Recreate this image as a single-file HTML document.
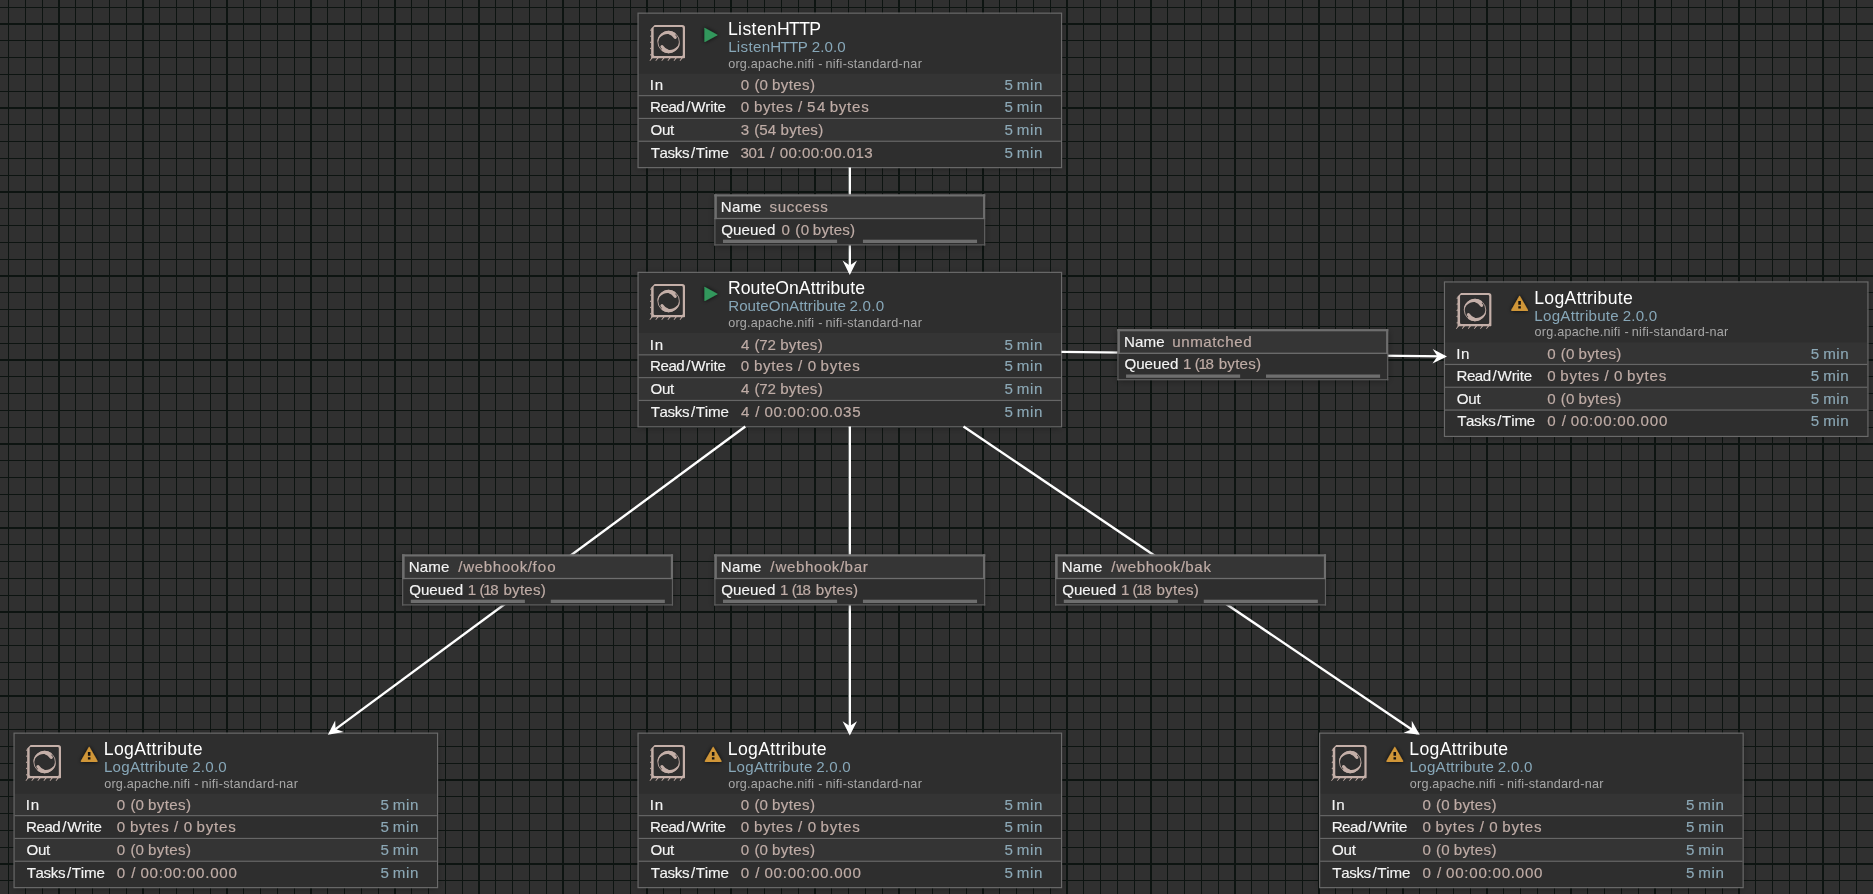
<!DOCTYPE html>
<html lang="en"><head><meta charset="utf-8"><title>NiFi Flow</title>
<style>
html,body{margin:0;padding:0;background:#303030;overflow:hidden;}
svg{display:block;position:absolute;left:0;top:0;will-change:transform;}
text{font-family:"Liberation Sans",sans-serif;white-space:pre;font-kerning:none;stroke-width:0px;stroke-linejoin:round;}
.nm{font-size:17.64px;fill:#ffffff;stroke:#ffffff;}
.ty{font-size:15.12px;fill:#87a7b8;stroke:#87a7b8;}
.bd{font-size:12.60px;fill:#a8a8a8;stroke:#a8a8a8;}
.lb{font-size:15.12px;fill:#f4f4f4;stroke:#f4f4f4;stroke-width:0.15px;}
.vl{font-size:15.12px;fill:#bfaca6;stroke:#bfaca6;stroke-width:0.18px;}
.in{font-size:15.12px;fill:#8ca8b6;stroke:#8ca8b6;stroke-width:0.15px;}
</style></head><body>
<svg width="1873" height="894" viewBox="0 0 1873 894">
<defs>
<filter id="glow" x="-60%" y="-60%" width="220%" height="220%"><feGaussianBlur in="SourceAlpha" stdDeviation="2.0" result="b"/><feFlood flood-color="#000" flood-opacity="0.85"/><feComposite in2="b" operator="in"/><feMerge><feMergeNode/><feMergeNode in="SourceGraphic"/></feMerge></filter>
<filter id="ds" x="-10%" y="-20%" width="120%" height="140%"><feGaussianBlur in="SourceAlpha" stdDeviation="3.6" result="b"/><feOffset in="b" dx="0" dy="1.2" result="ob"/><feFlood flood-color="#000" flood-opacity="0.4"/><feComposite in2="ob" operator="in"/><feMerge><feMergeNode/><feMergeNode in="SourceGraphic"/></feMerge></filter>
<g id="picon" fill="#c4afa8" stroke="none">
<path fill-rule="evenodd" d="M16.15 10.60 L43.70 10.60 Q46.50 10.60 46.50 13.40 L46.50 43.25 L45.90 43.85 L12.65 43.85 L12.65 14.20 Z M16.35 12.65 Q15.15 12.65 15.15 13.85 L15.15 40.40 Q15.15 41.60 16.35 41.60 L43.10 41.60 Q44.30 41.60 44.30 40.40 L44.30 13.85 Q44.30 12.65 43.10 12.65 Z"/>
<path d="M12.75 14.50 L11.4 15.90 L12.75 16.70 Z M12.75 20.50 L11.4 21.90 L12.75 22.70 Z M12.75 26.60 L11.4 28.00 L12.75 28.80 Z M12.75 32.80 L11.4 34.20 L12.75 35.00 Z M12.75 39.10 L11.4 40.50 L12.75 41.30 Z M12.80 43.6 L14.20 43.6 L11.60 46.7 L11.00 46.3 Z M18.70 43.6 L20.10 43.6 L17.50 46.7 L16.90 46.3 Z M24.70 43.6 L26.10 43.6 L23.50 46.7 L22.90 46.3 Z M30.80 43.6 L32.20 43.6 L29.60 46.7 L29.00 46.3 Z M36.90 43.6 L38.30 43.6 L35.70 46.7 L35.10 46.3 Z M42.90 43.6 L44.30 43.6 L41.70 46.7 L41.10 46.3 Z"/>
<circle cx="30.12" cy="27.62" r="10.75" fill="none" stroke="#c4afa8" stroke-width="0.85"/>
<path d="M18.93 27.23 A11.20 11.20 0 0 1 36.54 18.45 A1.75 1.75 0 0 1 34.54 21.31 A10.00 10.00 0 0 0 19.26 27.24 Z M41.31 28.01 A11.20 11.20 0 0 1 23.70 36.79 A1.75 1.75 0 0 1 25.70 33.93 A10.00 10.00 0 0 0 40.98 28.00 Z"/>
<path d="M30.45 18.08 Q34.72 19.65 36.76 22.97 M29.79 37.16 Q25.52 35.59 23.48 32.27" fill="none" stroke="#c4afa8" stroke-width="3.1" stroke-linecap="round"/>
</g>
<path id="run" d="M65.95 14.6 Q65.95 14.0 66.5 14.3 L78.8 21.05 Q79.35 21.36 78.8 21.67 L66.5 28.4 Q65.95 28.7 65.95 28.1 Z" fill="#31975b" filter="url(#glow)"/>
<g id="warn"><path filter="url(#glow)" d="M74.05 14.0 Q74.7 12.9 75.35 14.0 L82.95 27.3 Q83.6 28.65 82.3 28.7 L67.1 28.7 Q65.8 28.65 66.45 27.3 Z" fill="#d09637"/>
<path d="M73.4 18.6 H75.95 V22.3 H73.4 Z M73.4 23.8 H75.95 V26.2 H73.4 Z" fill="#141210"/></g>
</defs>
<rect x="0" y="0" width="1873" height="894" fill="#303030"/>
<g fill="#0d1411" shape-rendering="crispEdges">
<rect x="8" y="0" width="1" height="894"/>
<rect x="25" y="0" width="1" height="894"/>
<rect x="42" y="0" width="1" height="894"/>
<rect x="58" y="0" width="2" height="894"/>
<rect x="75" y="0" width="1" height="894"/>
<rect x="92" y="0" width="1" height="894"/>
<rect x="109" y="0" width="1" height="894"/>
<rect x="126" y="0" width="1" height="894"/>
<rect x="142" y="0" width="2" height="894"/>
<rect x="159" y="0" width="1" height="894"/>
<rect x="176" y="0" width="1" height="894"/>
<rect x="193" y="0" width="1" height="894"/>
<rect x="210" y="0" width="1" height="894"/>
<rect x="226" y="0" width="2" height="894"/>
<rect x="243" y="0" width="1" height="894"/>
<rect x="260" y="0" width="1" height="894"/>
<rect x="277" y="0" width="1" height="894"/>
<rect x="294" y="0" width="1" height="894"/>
<rect x="310" y="0" width="2" height="894"/>
<rect x="327" y="0" width="1" height="894"/>
<rect x="344" y="0" width="1" height="894"/>
<rect x="361" y="0" width="1" height="894"/>
<rect x="378" y="0" width="1" height="894"/>
<rect x="394" y="0" width="2" height="894"/>
<rect x="411" y="0" width="1" height="894"/>
<rect x="428" y="0" width="1" height="894"/>
<rect x="445" y="0" width="1" height="894"/>
<rect x="462" y="0" width="1" height="894"/>
<rect x="478" y="0" width="2" height="894"/>
<rect x="495" y="0" width="1" height="894"/>
<rect x="512" y="0" width="1" height="894"/>
<rect x="529" y="0" width="1" height="894"/>
<rect x="546" y="0" width="1" height="894"/>
<rect x="562" y="0" width="2" height="894"/>
<rect x="579" y="0" width="1" height="894"/>
<rect x="596" y="0" width="1" height="894"/>
<rect x="613" y="0" width="1" height="894"/>
<rect x="630" y="0" width="1" height="894"/>
<rect x="646" y="0" width="2" height="894"/>
<rect x="663" y="0" width="1" height="894"/>
<rect x="680" y="0" width="1" height="894"/>
<rect x="697" y="0" width="1" height="894"/>
<rect x="714" y="0" width="1" height="894"/>
<rect x="730" y="0" width="2" height="894"/>
<rect x="747" y="0" width="1" height="894"/>
<rect x="764" y="0" width="1" height="894"/>
<rect x="781" y="0" width="1" height="894"/>
<rect x="798" y="0" width="1" height="894"/>
<rect x="814" y="0" width="2" height="894"/>
<rect x="831" y="0" width="1" height="894"/>
<rect x="848" y="0" width="1" height="894"/>
<rect x="865" y="0" width="1" height="894"/>
<rect x="882" y="0" width="1" height="894"/>
<rect x="898" y="0" width="2" height="894"/>
<rect x="915" y="0" width="1" height="894"/>
<rect x="932" y="0" width="1" height="894"/>
<rect x="949" y="0" width="1" height="894"/>
<rect x="966" y="0" width="1" height="894"/>
<rect x="982" y="0" width="2" height="894"/>
<rect x="999" y="0" width="1" height="894"/>
<rect x="1016" y="0" width="1" height="894"/>
<rect x="1033" y="0" width="1" height="894"/>
<rect x="1050" y="0" width="1" height="894"/>
<rect x="1066" y="0" width="2" height="894"/>
<rect x="1083" y="0" width="1" height="894"/>
<rect x="1100" y="0" width="1" height="894"/>
<rect x="1117" y="0" width="1" height="894"/>
<rect x="1134" y="0" width="1" height="894"/>
<rect x="1150" y="0" width="2" height="894"/>
<rect x="1167" y="0" width="1" height="894"/>
<rect x="1184" y="0" width="1" height="894"/>
<rect x="1201" y="0" width="1" height="894"/>
<rect x="1218" y="0" width="1" height="894"/>
<rect x="1234" y="0" width="2" height="894"/>
<rect x="1251" y="0" width="1" height="894"/>
<rect x="1268" y="0" width="1" height="894"/>
<rect x="1285" y="0" width="1" height="894"/>
<rect x="1302" y="0" width="1" height="894"/>
<rect x="1318" y="0" width="2" height="894"/>
<rect x="1335" y="0" width="1" height="894"/>
<rect x="1352" y="0" width="1" height="894"/>
<rect x="1369" y="0" width="1" height="894"/>
<rect x="1386" y="0" width="1" height="894"/>
<rect x="1402" y="0" width="2" height="894"/>
<rect x="1419" y="0" width="1" height="894"/>
<rect x="1436" y="0" width="1" height="894"/>
<rect x="1453" y="0" width="1" height="894"/>
<rect x="1470" y="0" width="1" height="894"/>
<rect x="1486" y="0" width="2" height="894"/>
<rect x="1503" y="0" width="1" height="894"/>
<rect x="1520" y="0" width="1" height="894"/>
<rect x="1537" y="0" width="1" height="894"/>
<rect x="1554" y="0" width="1" height="894"/>
<rect x="1570" y="0" width="2" height="894"/>
<rect x="1587" y="0" width="1" height="894"/>
<rect x="1604" y="0" width="1" height="894"/>
<rect x="1621" y="0" width="1" height="894"/>
<rect x="1638" y="0" width="1" height="894"/>
<rect x="1654" y="0" width="2" height="894"/>
<rect x="1671" y="0" width="1" height="894"/>
<rect x="1688" y="0" width="1" height="894"/>
<rect x="1705" y="0" width="1" height="894"/>
<rect x="1722" y="0" width="1" height="894"/>
<rect x="1738" y="0" width="2" height="894"/>
<rect x="1755" y="0" width="1" height="894"/>
<rect x="1772" y="0" width="1" height="894"/>
<rect x="1789" y="0" width="1" height="894"/>
<rect x="1806" y="0" width="1" height="894"/>
<rect x="1822" y="0" width="2" height="894"/>
<rect x="1839" y="0" width="1" height="894"/>
<rect x="1856" y="0" width="1" height="894"/>
<rect x="1873" y="0" width="1" height="894"/>
<rect x="0" y="7" width="1873" height="1"/>
<rect x="0" y="23" width="1873" height="2"/>
<rect x="0" y="40" width="1873" height="1"/>
<rect x="0" y="57" width="1873" height="1"/>
<rect x="0" y="74" width="1873" height="1"/>
<rect x="0" y="91" width="1873" height="1"/>
<rect x="0" y="107" width="1873" height="2"/>
<rect x="0" y="124" width="1873" height="1"/>
<rect x="0" y="141" width="1873" height="1"/>
<rect x="0" y="158" width="1873" height="1"/>
<rect x="0" y="175" width="1873" height="1"/>
<rect x="0" y="191" width="1873" height="2"/>
<rect x="0" y="208" width="1873" height="1"/>
<rect x="0" y="225" width="1873" height="1"/>
<rect x="0" y="242" width="1873" height="1"/>
<rect x="0" y="259" width="1873" height="1"/>
<rect x="0" y="275" width="1873" height="2"/>
<rect x="0" y="292" width="1873" height="1"/>
<rect x="0" y="309" width="1873" height="1"/>
<rect x="0" y="326" width="1873" height="1"/>
<rect x="0" y="343" width="1873" height="1"/>
<rect x="0" y="359" width="1873" height="2"/>
<rect x="0" y="376" width="1873" height="1"/>
<rect x="0" y="393" width="1873" height="1"/>
<rect x="0" y="410" width="1873" height="1"/>
<rect x="0" y="427" width="1873" height="1"/>
<rect x="0" y="443" width="1873" height="2"/>
<rect x="0" y="460" width="1873" height="1"/>
<rect x="0" y="477" width="1873" height="1"/>
<rect x="0" y="494" width="1873" height="1"/>
<rect x="0" y="511" width="1873" height="1"/>
<rect x="0" y="527" width="1873" height="2"/>
<rect x="0" y="544" width="1873" height="1"/>
<rect x="0" y="561" width="1873" height="1"/>
<rect x="0" y="578" width="1873" height="1"/>
<rect x="0" y="595" width="1873" height="1"/>
<rect x="0" y="611" width="1873" height="2"/>
<rect x="0" y="628" width="1873" height="1"/>
<rect x="0" y="645" width="1873" height="1"/>
<rect x="0" y="662" width="1873" height="1"/>
<rect x="0" y="679" width="1873" height="1"/>
<rect x="0" y="695" width="1873" height="2"/>
<rect x="0" y="712" width="1873" height="1"/>
<rect x="0" y="729" width="1873" height="1"/>
<rect x="0" y="746" width="1873" height="1"/>
<rect x="0" y="763" width="1873" height="1"/>
<rect x="0" y="779" width="1873" height="2"/>
<rect x="0" y="796" width="1873" height="1"/>
<rect x="0" y="813" width="1873" height="1"/>
<rect x="0" y="830" width="1873" height="1"/>
<rect x="0" y="847" width="1873" height="1"/>
<rect x="0" y="863" width="1873" height="2"/>
<rect x="0" y="880" width="1873" height="1"/>
</g>
<rect x="638.50" y="13.60" width="422.40" height="153.60" fill="#2f2f2f" filter="url(#ds)"/>
<rect x="638.50" y="73.60" width="422.40" height="22.80" fill="#343434"/>
<rect x="638.50" y="96.40" width="422.40" height="22.80" fill="#2e2e2e"/>
<rect x="638.50" y="119.20" width="422.40" height="22.80" fill="#343434"/>
<rect x="638.50" y="142.00" width="422.40" height="25.20" fill="#2e2e2e"/>
<rect x="638.50" y="95.05" width="422.40" height="1.2" fill="#666666"/>
<rect x="638.50" y="117.85" width="422.40" height="1.2" fill="#666666"/>
<rect x="638.50" y="140.65" width="422.40" height="1.2" fill="#666666"/>
<rect x="638.05" y="13.15" width="423.50" height="154.50" fill="none" stroke="#6a6a6a" stroke-width="1.2"/>
<use href="#picon" x="638.50" y="14.40"/>
<use href="#run" x="638.50" y="13.60"/>
<text class="nm" x="727.93" y="35" letter-spacing="0.388">Listen</text>
<text class="nm" x="776.95" y="35" letter-spacing="-0.626">HTTP</text>
<text class="ty" x="728.14" y="52" letter-spacing="0.333">Listen</text>
<text class="ty" x="770.16" y="52" letter-spacing="-0.623">HTTP</text>
<text class="ty" x="811.81" y="52" letter-spacing="0.061">2.0.0</text>
<text class="bd" x="728.18" y="68" letter-spacing="0.225">org.apache.nifi</text>
<text class="bd" x="818.22" y="68" letter-spacing="0.000">-</text>
<text class="bd" x="825.41" y="68" letter-spacing="0.297">nifi-standard-nar</text>
<text class="lb" x="649.84" y="90" letter-spacing="0.637">In</text>
<text class="vl" x="740.86" y="90" letter-spacing="0.000">0</text>
<text class="vl" x="754.39" y="90" letter-spacing="0.164">(0</text>
<text class="vl" x="772.08" y="90" letter-spacing="0.342">bytes)</text>
<text class="in" x="1004.40" y="90" letter-spacing="0.000">5</text>
<text class="in" x="1016.75" y="90" letter-spacing="0.591">min</text>
<text class="lb" x="650.08" y="112" letter-spacing="-0.480">Read</text>
<text class="lb" x="686.15" y="112" letter-spacing="0.000">/</text>
<text class="lb" x="691.13" y="112" letter-spacing="-0.122">Write</text>
<text class="vl" x="740.86" y="112" letter-spacing="0.000">0</text>
<text class="vl" x="753.96" y="112" letter-spacing="0.658">bytes</text>
<text class="vl" x="798.07" y="112" letter-spacing="0.000">/</text>
<text class="vl" x="807.07" y="112" letter-spacing="1.650">54</text>
<text class="vl" x="829.66" y="112" letter-spacing="0.735">bytes</text>
<text class="in" x="1004.40" y="112" letter-spacing="0.000">5</text>
<text class="in" x="1016.75" y="112" letter-spacing="0.591">min</text>
<text class="lb" x="650.38" y="135" letter-spacing="-0.222">Out</text>
<text class="vl" x="740.80" y="135" letter-spacing="0.000">3</text>
<text class="vl" x="754.19" y="135" letter-spacing="0.084">(54</text>
<text class="vl" x="780.53" y="135" letter-spacing="0.324">bytes)</text>
<text class="in" x="1004.40" y="135" letter-spacing="0.000">5</text>
<text class="in" x="1016.75" y="135" letter-spacing="0.591">min</text>
<text class="lb" x="650.76" y="158" letter-spacing="-0.390">Tasks</text>
<text class="lb" x="690.95" y="158" letter-spacing="0.000">/</text>
<text class="lb" x="695.66" y="158" letter-spacing="-0.129">Time</text>
<text class="vl" x="740.45" y="158" letter-spacing="-0.276">301</text>
<text class="vl" x="770.29" y="158" letter-spacing="0.000">/</text>
<text class="vl" x="779.71" y="158" letter-spacing="0.435">00:00:00.013</text>
<text class="in" x="1004.40" y="158" letter-spacing="0.000">5</text>
<text class="in" x="1016.75" y="158" letter-spacing="0.591">min</text>
<rect x="638.50" y="272.80" width="422.40" height="153.60" fill="#2f2f2f" filter="url(#ds)"/>
<rect x="638.50" y="332.80" width="422.40" height="22.80" fill="#343434"/>
<rect x="638.50" y="355.60" width="422.40" height="22.80" fill="#2e2e2e"/>
<rect x="638.50" y="378.40" width="422.40" height="22.80" fill="#343434"/>
<rect x="638.50" y="401.20" width="422.40" height="25.20" fill="#2e2e2e"/>
<rect x="638.50" y="354.25" width="422.40" height="1.2" fill="#666666"/>
<rect x="638.50" y="377.05" width="422.40" height="1.2" fill="#666666"/>
<rect x="638.50" y="399.85" width="422.40" height="1.2" fill="#666666"/>
<rect x="638.05" y="272.35" width="423.50" height="154.50" fill="none" stroke="#6a6a6a" stroke-width="1.2"/>
<use href="#picon" x="638.50" y="273.40"/>
<use href="#run" x="638.50" y="272.60"/>
<text class="nm" x="727.95" y="294" letter-spacing="0.056">RouteOnAttribute</text>
<text class="ty" x="728.16" y="311" letter-spacing="0.069">RouteOnAttribute</text>
<text class="ty" x="849.39" y="311" letter-spacing="0.268">2.0.0</text>
<text class="bd" x="728.18" y="327" letter-spacing="0.225">org.apache.nifi</text>
<text class="bd" x="818.22" y="327" letter-spacing="0.000">-</text>
<text class="bd" x="825.41" y="327" letter-spacing="0.297">nifi-standard-nar</text>
<text class="lb" x="649.84" y="350" letter-spacing="0.637">In</text>
<text class="vl" x="740.90" y="350" letter-spacing="0.000">4</text>
<text class="vl" x="754.39" y="350" letter-spacing="-0.213">(72</text>
<text class="vl" x="780.13" y="350" letter-spacing="0.282">bytes)</text>
<text class="in" x="1004.40" y="350" letter-spacing="0.000">5</text>
<text class="in" x="1016.75" y="350" letter-spacing="0.591">min</text>
<text class="lb" x="650.08" y="371" letter-spacing="-0.480">Read</text>
<text class="lb" x="686.15" y="371" letter-spacing="0.000">/</text>
<text class="lb" x="691.13" y="371" letter-spacing="-0.122">Write</text>
<text class="vl" x="740.86" y="371" letter-spacing="0.000">0</text>
<text class="vl" x="753.96" y="371" letter-spacing="0.658">bytes</text>
<text class="vl" x="798.07" y="371" letter-spacing="0.000">/</text>
<text class="vl" x="807.66" y="371" letter-spacing="0.000">0</text>
<text class="vl" x="820.60" y="371" letter-spacing="0.785">bytes</text>
<text class="in" x="1004.40" y="371" letter-spacing="0.000">5</text>
<text class="in" x="1016.75" y="371" letter-spacing="0.591">min</text>
<text class="lb" x="650.38" y="394" letter-spacing="-0.222">Out</text>
<text class="vl" x="740.90" y="394" letter-spacing="0.000">4</text>
<text class="vl" x="754.39" y="394" letter-spacing="-0.213">(72</text>
<text class="vl" x="780.13" y="394" letter-spacing="0.282">bytes)</text>
<text class="in" x="1004.40" y="394" letter-spacing="0.000">5</text>
<text class="in" x="1016.75" y="394" letter-spacing="0.591">min</text>
<text class="lb" x="650.76" y="417" letter-spacing="-0.390">Tasks</text>
<text class="lb" x="690.95" y="417" letter-spacing="0.000">/</text>
<text class="lb" x="695.66" y="417" letter-spacing="-0.129">Time</text>
<text class="vl" x="740.90" y="417" letter-spacing="0.000">4</text>
<text class="vl" x="755.29" y="417" letter-spacing="0.000">/</text>
<text class="vl" x="764.40" y="417" letter-spacing="0.726">00:00:00.035</text>
<text class="in" x="1004.40" y="417" letter-spacing="0.000">5</text>
<text class="in" x="1016.75" y="417" letter-spacing="0.591">min</text>
<rect x="1444.90" y="282.40" width="422.40" height="153.60" fill="#2f2f2f" filter="url(#ds)"/>
<rect x="1444.90" y="342.40" width="422.40" height="22.80" fill="#343434"/>
<rect x="1444.90" y="365.20" width="422.40" height="22.80" fill="#2e2e2e"/>
<rect x="1444.90" y="388.00" width="422.40" height="22.80" fill="#343434"/>
<rect x="1444.90" y="410.80" width="422.40" height="25.20" fill="#2e2e2e"/>
<rect x="1444.90" y="363.85" width="422.40" height="1.2" fill="#666666"/>
<rect x="1444.90" y="386.65" width="422.40" height="1.2" fill="#666666"/>
<rect x="1444.90" y="409.45" width="422.40" height="1.2" fill="#666666"/>
<rect x="1444.45" y="281.95" width="423.50" height="154.50" fill="none" stroke="#6a6a6a" stroke-width="1.2"/>
<use href="#picon" x="1444.90" y="282.40"/>
<use href="#warn" x="1444.90" y="282.40"/>
<text class="nm" x="1534.15" y="304" letter-spacing="0.337">LogAttribute</text>
<text class="ty" x="1534.36" y="321" letter-spacing="0.261">LogAttribute</text>
<text class="ty" x="1622.64" y="321" letter-spacing="0.231">2.0.0</text>
<text class="bd" x="1534.58" y="336" letter-spacing="0.225">org.apache.nifi</text>
<text class="bd" x="1624.62" y="336" letter-spacing="0.000">-</text>
<text class="bd" x="1631.81" y="336" letter-spacing="0.297">nifi-standard-nar</text>
<text class="lb" x="1456.24" y="359" letter-spacing="0.637">In</text>
<text class="vl" x="1547.26" y="359" letter-spacing="0.000">0</text>
<text class="vl" x="1560.79" y="359" letter-spacing="0.164">(0</text>
<text class="vl" x="1578.48" y="359" letter-spacing="0.342">bytes)</text>
<text class="in" x="1810.80" y="359" letter-spacing="0.000">5</text>
<text class="in" x="1823.15" y="359" letter-spacing="0.591">min</text>
<text class="lb" x="1456.48" y="381" letter-spacing="-0.480">Read</text>
<text class="lb" x="1492.55" y="381" letter-spacing="0.000">/</text>
<text class="lb" x="1497.53" y="381" letter-spacing="-0.122">Write</text>
<text class="vl" x="1547.26" y="381" letter-spacing="0.000">0</text>
<text class="vl" x="1560.36" y="381" letter-spacing="0.658">bytes</text>
<text class="vl" x="1604.47" y="381" letter-spacing="0.000">/</text>
<text class="vl" x="1614.06" y="381" letter-spacing="0.000">0</text>
<text class="vl" x="1627.00" y="381" letter-spacing="0.785">bytes</text>
<text class="in" x="1810.80" y="381" letter-spacing="0.000">5</text>
<text class="in" x="1823.15" y="381" letter-spacing="0.591">min</text>
<text class="lb" x="1456.78" y="404" letter-spacing="-0.222">Out</text>
<text class="vl" x="1547.26" y="404" letter-spacing="0.000">0</text>
<text class="vl" x="1560.79" y="404" letter-spacing="0.164">(0</text>
<text class="vl" x="1578.48" y="404" letter-spacing="0.342">bytes)</text>
<text class="in" x="1810.80" y="404" letter-spacing="0.000">5</text>
<text class="in" x="1823.15" y="404" letter-spacing="0.591">min</text>
<text class="lb" x="1457.16" y="426" letter-spacing="-0.390">Tasks</text>
<text class="lb" x="1497.35" y="426" letter-spacing="0.000">/</text>
<text class="lb" x="1502.06" y="426" letter-spacing="-0.129">Time</text>
<text class="vl" x="1547.26" y="426" letter-spacing="0.000">0</text>
<text class="vl" x="1561.69" y="426" letter-spacing="0.000">/</text>
<text class="vl" x="1570.80" y="426" letter-spacing="0.755">00:00:00.000</text>
<text class="in" x="1810.80" y="426" letter-spacing="0.000">5</text>
<text class="in" x="1823.15" y="426" letter-spacing="0.591">min</text>
<rect x="14.50" y="733.60" width="422.40" height="153.60" fill="#2f2f2f" filter="url(#ds)"/>
<rect x="14.50" y="793.60" width="422.40" height="22.80" fill="#343434"/>
<rect x="14.50" y="816.40" width="422.40" height="22.80" fill="#2e2e2e"/>
<rect x="14.50" y="839.20" width="422.40" height="22.80" fill="#343434"/>
<rect x="14.50" y="862.00" width="422.40" height="25.20" fill="#2e2e2e"/>
<rect x="14.50" y="815.05" width="422.40" height="1.2" fill="#666666"/>
<rect x="14.50" y="837.85" width="422.40" height="1.2" fill="#666666"/>
<rect x="14.50" y="860.65" width="422.40" height="1.2" fill="#666666"/>
<rect x="14.05" y="733.15" width="423.50" height="154.50" fill="none" stroke="#6a6a6a" stroke-width="1.2"/>
<use href="#picon" x="14.50" y="734.40"/>
<use href="#warn" x="14.50" y="733.40"/>
<text class="nm" x="103.75" y="755" letter-spacing="0.337">LogAttribute</text>
<text class="ty" x="103.96" y="772" letter-spacing="0.261">LogAttribute</text>
<text class="ty" x="192.24" y="772" letter-spacing="0.231">2.0.0</text>
<text class="bd" x="104.18" y="788" letter-spacing="0.225">org.apache.nifi</text>
<text class="bd" x="194.22" y="788" letter-spacing="0.000">-</text>
<text class="bd" x="201.41" y="788" letter-spacing="0.297">nifi-standard-nar</text>
<text class="lb" x="25.84" y="810" letter-spacing="0.637">In</text>
<text class="vl" x="116.86" y="810" letter-spacing="0.000">0</text>
<text class="vl" x="130.39" y="810" letter-spacing="0.164">(0</text>
<text class="vl" x="148.08" y="810" letter-spacing="0.342">bytes)</text>
<text class="in" x="380.40" y="810" letter-spacing="0.000">5</text>
<text class="in" x="392.75" y="810" letter-spacing="0.591">min</text>
<text class="lb" x="26.08" y="832" letter-spacing="-0.480">Read</text>
<text class="lb" x="62.15" y="832" letter-spacing="0.000">/</text>
<text class="lb" x="67.13" y="832" letter-spacing="-0.122">Write</text>
<text class="vl" x="116.86" y="832" letter-spacing="0.000">0</text>
<text class="vl" x="129.96" y="832" letter-spacing="0.658">bytes</text>
<text class="vl" x="174.07" y="832" letter-spacing="0.000">/</text>
<text class="vl" x="183.66" y="832" letter-spacing="0.000">0</text>
<text class="vl" x="196.60" y="832" letter-spacing="0.785">bytes</text>
<text class="in" x="380.40" y="832" letter-spacing="0.000">5</text>
<text class="in" x="392.75" y="832" letter-spacing="0.591">min</text>
<text class="lb" x="26.38" y="855" letter-spacing="-0.222">Out</text>
<text class="vl" x="116.86" y="855" letter-spacing="0.000">0</text>
<text class="vl" x="130.39" y="855" letter-spacing="0.164">(0</text>
<text class="vl" x="148.08" y="855" letter-spacing="0.342">bytes)</text>
<text class="in" x="380.40" y="855" letter-spacing="0.000">5</text>
<text class="in" x="392.75" y="855" letter-spacing="0.591">min</text>
<text class="lb" x="26.76" y="878" letter-spacing="-0.390">Tasks</text>
<text class="lb" x="66.95" y="878" letter-spacing="0.000">/</text>
<text class="lb" x="71.66" y="878" letter-spacing="-0.129">Time</text>
<text class="vl" x="116.86" y="878" letter-spacing="0.000">0</text>
<text class="vl" x="131.29" y="878" letter-spacing="0.000">/</text>
<text class="vl" x="140.40" y="878" letter-spacing="0.755">00:00:00.000</text>
<text class="in" x="380.40" y="878" letter-spacing="0.000">5</text>
<text class="in" x="392.75" y="878" letter-spacing="0.591">min</text>
<rect x="638.50" y="733.60" width="422.40" height="153.60" fill="#2f2f2f" filter="url(#ds)"/>
<rect x="638.50" y="793.60" width="422.40" height="22.80" fill="#343434"/>
<rect x="638.50" y="816.40" width="422.40" height="22.80" fill="#2e2e2e"/>
<rect x="638.50" y="839.20" width="422.40" height="22.80" fill="#343434"/>
<rect x="638.50" y="862.00" width="422.40" height="25.20" fill="#2e2e2e"/>
<rect x="638.50" y="815.05" width="422.40" height="1.2" fill="#666666"/>
<rect x="638.50" y="837.85" width="422.40" height="1.2" fill="#666666"/>
<rect x="638.50" y="860.65" width="422.40" height="1.2" fill="#666666"/>
<rect x="638.05" y="733.15" width="423.50" height="154.50" fill="none" stroke="#6a6a6a" stroke-width="1.2"/>
<use href="#picon" x="638.50" y="734.40"/>
<use href="#warn" x="638.50" y="733.40"/>
<text class="nm" x="727.75" y="755" letter-spacing="0.337">LogAttribute</text>
<text class="ty" x="727.96" y="772" letter-spacing="0.261">LogAttribute</text>
<text class="ty" x="816.24" y="772" letter-spacing="0.231">2.0.0</text>
<text class="bd" x="728.18" y="788" letter-spacing="0.225">org.apache.nifi</text>
<text class="bd" x="818.22" y="788" letter-spacing="0.000">-</text>
<text class="bd" x="825.41" y="788" letter-spacing="0.297">nifi-standard-nar</text>
<text class="lb" x="649.84" y="810" letter-spacing="0.637">In</text>
<text class="vl" x="740.86" y="810" letter-spacing="0.000">0</text>
<text class="vl" x="754.39" y="810" letter-spacing="0.164">(0</text>
<text class="vl" x="772.08" y="810" letter-spacing="0.342">bytes)</text>
<text class="in" x="1004.40" y="810" letter-spacing="0.000">5</text>
<text class="in" x="1016.75" y="810" letter-spacing="0.591">min</text>
<text class="lb" x="650.08" y="832" letter-spacing="-0.480">Read</text>
<text class="lb" x="686.15" y="832" letter-spacing="0.000">/</text>
<text class="lb" x="691.13" y="832" letter-spacing="-0.122">Write</text>
<text class="vl" x="740.86" y="832" letter-spacing="0.000">0</text>
<text class="vl" x="753.96" y="832" letter-spacing="0.658">bytes</text>
<text class="vl" x="798.07" y="832" letter-spacing="0.000">/</text>
<text class="vl" x="807.66" y="832" letter-spacing="0.000">0</text>
<text class="vl" x="820.60" y="832" letter-spacing="0.785">bytes</text>
<text class="in" x="1004.40" y="832" letter-spacing="0.000">5</text>
<text class="in" x="1016.75" y="832" letter-spacing="0.591">min</text>
<text class="lb" x="650.38" y="855" letter-spacing="-0.222">Out</text>
<text class="vl" x="740.86" y="855" letter-spacing="0.000">0</text>
<text class="vl" x="754.39" y="855" letter-spacing="0.164">(0</text>
<text class="vl" x="772.08" y="855" letter-spacing="0.342">bytes)</text>
<text class="in" x="1004.40" y="855" letter-spacing="0.000">5</text>
<text class="in" x="1016.75" y="855" letter-spacing="0.591">min</text>
<text class="lb" x="650.76" y="878" letter-spacing="-0.390">Tasks</text>
<text class="lb" x="690.95" y="878" letter-spacing="0.000">/</text>
<text class="lb" x="695.66" y="878" letter-spacing="-0.129">Time</text>
<text class="vl" x="740.86" y="878" letter-spacing="0.000">0</text>
<text class="vl" x="755.29" y="878" letter-spacing="0.000">/</text>
<text class="vl" x="764.40" y="878" letter-spacing="0.755">00:00:00.000</text>
<text class="in" x="1004.40" y="878" letter-spacing="0.000">5</text>
<text class="in" x="1016.75" y="878" letter-spacing="0.591">min</text>
<rect x="1320.10" y="733.60" width="422.40" height="153.60" fill="#2f2f2f" filter="url(#ds)"/>
<rect x="1320.10" y="793.60" width="422.40" height="22.80" fill="#343434"/>
<rect x="1320.10" y="816.40" width="422.40" height="22.80" fill="#2e2e2e"/>
<rect x="1320.10" y="839.20" width="422.40" height="22.80" fill="#343434"/>
<rect x="1320.10" y="862.00" width="422.40" height="25.20" fill="#2e2e2e"/>
<rect x="1320.10" y="815.05" width="422.40" height="1.2" fill="#666666"/>
<rect x="1320.10" y="837.85" width="422.40" height="1.2" fill="#666666"/>
<rect x="1320.10" y="860.65" width="422.40" height="1.2" fill="#666666"/>
<rect x="1319.65" y="733.15" width="423.50" height="154.50" fill="none" stroke="#6a6a6a" stroke-width="1.2"/>
<use href="#picon" x="1320.10" y="734.40"/>
<use href="#warn" x="1320.10" y="733.40"/>
<text class="nm" x="1409.35" y="755" letter-spacing="0.337">LogAttribute</text>
<text class="ty" x="1409.56" y="772" letter-spacing="0.261">LogAttribute</text>
<text class="ty" x="1497.84" y="772" letter-spacing="0.231">2.0.0</text>
<text class="bd" x="1409.78" y="788" letter-spacing="0.225">org.apache.nifi</text>
<text class="bd" x="1499.82" y="788" letter-spacing="0.000">-</text>
<text class="bd" x="1507.01" y="788" letter-spacing="0.297">nifi-standard-nar</text>
<text class="lb" x="1331.44" y="810" letter-spacing="0.637">In</text>
<text class="vl" x="1422.46" y="810" letter-spacing="0.000">0</text>
<text class="vl" x="1435.99" y="810" letter-spacing="0.164">(0</text>
<text class="vl" x="1453.68" y="810" letter-spacing="0.342">bytes)</text>
<text class="in" x="1686.00" y="810" letter-spacing="0.000">5</text>
<text class="in" x="1698.35" y="810" letter-spacing="0.591">min</text>
<text class="lb" x="1331.68" y="832" letter-spacing="-0.480">Read</text>
<text class="lb" x="1367.75" y="832" letter-spacing="0.000">/</text>
<text class="lb" x="1372.73" y="832" letter-spacing="-0.122">Write</text>
<text class="vl" x="1422.46" y="832" letter-spacing="0.000">0</text>
<text class="vl" x="1435.56" y="832" letter-spacing="0.658">bytes</text>
<text class="vl" x="1479.67" y="832" letter-spacing="0.000">/</text>
<text class="vl" x="1489.26" y="832" letter-spacing="0.000">0</text>
<text class="vl" x="1502.20" y="832" letter-spacing="0.785">bytes</text>
<text class="in" x="1686.00" y="832" letter-spacing="0.000">5</text>
<text class="in" x="1698.35" y="832" letter-spacing="0.591">min</text>
<text class="lb" x="1331.98" y="855" letter-spacing="-0.222">Out</text>
<text class="vl" x="1422.46" y="855" letter-spacing="0.000">0</text>
<text class="vl" x="1435.99" y="855" letter-spacing="0.164">(0</text>
<text class="vl" x="1453.68" y="855" letter-spacing="0.342">bytes)</text>
<text class="in" x="1686.00" y="855" letter-spacing="0.000">5</text>
<text class="in" x="1698.35" y="855" letter-spacing="0.591">min</text>
<text class="lb" x="1332.36" y="878" letter-spacing="-0.390">Tasks</text>
<text class="lb" x="1372.55" y="878" letter-spacing="0.000">/</text>
<text class="lb" x="1377.26" y="878" letter-spacing="-0.129">Time</text>
<text class="vl" x="1422.46" y="878" letter-spacing="0.000">0</text>
<text class="vl" x="1436.89" y="878" letter-spacing="0.000">/</text>
<text class="vl" x="1446.00" y="878" letter-spacing="0.755">00:00:00.000</text>
<text class="in" x="1686.00" y="878" letter-spacing="0.000">5</text>
<text class="in" x="1698.35" y="878" letter-spacing="0.591">min</text>
<path d="M849.80 167.50 L849.80 272.60" stroke="#ffffff" stroke-width="2.4" fill="none"/>
<path d="M1061.50 351.90 L1444.60 356.40" stroke="#ffffff" stroke-width="2.4" fill="none"/>
<path d="M745.30 426.50 L329.80 733.40" stroke="#ffffff" stroke-width="2.4" fill="none"/>
<path d="M849.80 426.50 L849.80 733.20" stroke="#ffffff" stroke-width="2.4" fill="none"/>
<path d="M963.50 426.50 L1417.70 733.40" stroke="#ffffff" stroke-width="2.4" fill="none"/>
<rect x="714.85" y="194.90" width="269.80" height="50.00" fill="#2f2f2f" filter="url(#ds)"/>
<rect x="714.85" y="194.90" width="269.80" height="24.00" fill="#353535"/>
<g fill="#606060">
<rect x="714.25" y="218.30" width="1.2" height="27.20"/>
<rect x="984.05" y="218.30" width="1.2" height="27.20"/>
<rect x="714.25" y="244.30" width="271.00" height="1.2"/>
</g>
<g fill="#6e6e6e">
<rect x="714.25" y="194.30" width="2.6" height="24.8"/>
<rect x="714.25" y="194.30" width="271.00" height="2.2"/>
<rect x="983.05" y="194.30" width="2.2" height="24.8"/>
<rect x="714.55" y="217.85" width="270.40" height="1.3"/>
</g>
<rect x="723.00" y="239.70" width="114.1" height="3.3" fill="#6e6e6e"/>
<rect x="862.95" y="239.70" width="114.1" height="3.3" fill="#6e6e6e"/>
<text class="lb" x="720.86" y="212" letter-spacing="0.110">Name</text>
<text class="vl" x="769.50" y="212" letter-spacing="0.625">success</text>
<text class="lb" x="721.33" y="235" letter-spacing="0.037">Queued</text>
<text class="vl" x="781.61" y="235" letter-spacing="0.000">0</text>
<text class="vl" x="795.20" y="235" letter-spacing="0.474">(0</text>
<text class="vl" x="812.86" y="235" letter-spacing="0.228">bytes)</text>
<rect x="1117.90" y="329.70" width="269.80" height="50.00" fill="#2f2f2f" filter="url(#ds)"/>
<rect x="1117.90" y="329.70" width="269.80" height="24.00" fill="#353535"/>
<g fill="#606060">
<rect x="1117.30" y="353.10" width="1.2" height="27.20"/>
<rect x="1387.10" y="353.10" width="1.2" height="27.20"/>
<rect x="1117.30" y="379.10" width="271.00" height="1.2"/>
</g>
<g fill="#6e6e6e">
<rect x="1117.30" y="329.10" width="2.6" height="24.8"/>
<rect x="1117.30" y="329.10" width="271.00" height="2.2"/>
<rect x="1386.10" y="329.10" width="2.2" height="24.8"/>
<rect x="1117.60" y="352.65" width="270.40" height="1.3"/>
</g>
<rect x="1126.05" y="374.50" width="114.1" height="3.3" fill="#6e6e6e"/>
<rect x="1266.00" y="374.50" width="114.1" height="3.3" fill="#6e6e6e"/>
<text class="lb" x="1123.91" y="347" letter-spacing="0.110">Name</text>
<text class="vl" x="1172.28" y="347" letter-spacing="0.568">unmatched</text>
<text class="lb" x="1124.38" y="369" letter-spacing="0.037">Queued</text>
<text class="vl" x="1183.12" y="369" letter-spacing="0.000">1</text>
<text class="vl" x="1194.79" y="369" letter-spacing="-1.374">(18</text>
<text class="vl" x="1218.68" y="369" letter-spacing="0.262">bytes)</text>
<rect x="402.65" y="554.90" width="269.80" height="50.00" fill="#2f2f2f" filter="url(#ds)"/>
<rect x="402.65" y="554.90" width="269.80" height="24.00" fill="#353535"/>
<g fill="#606060">
<rect x="402.05" y="578.30" width="1.2" height="27.20"/>
<rect x="671.85" y="578.30" width="1.2" height="27.20"/>
<rect x="402.05" y="604.30" width="271.00" height="1.2"/>
</g>
<g fill="#6e6e6e">
<rect x="402.05" y="554.30" width="2.6" height="24.8"/>
<rect x="402.05" y="554.30" width="271.00" height="2.2"/>
<rect x="670.85" y="554.30" width="2.2" height="24.8"/>
<rect x="402.35" y="577.85" width="270.40" height="1.3"/>
</g>
<rect x="410.80" y="599.70" width="114.1" height="3.3" fill="#6e6e6e"/>
<rect x="550.75" y="599.70" width="114.1" height="3.3" fill="#6e6e6e"/>
<text class="lb" x="408.66" y="572" letter-spacing="0.110">Name</text>
<text class="vl" x="458.15" y="572" letter-spacing="0.000">/</text>
<text class="vl" x="463.22" y="572" letter-spacing="0.589">webhook</text>
<text class="vl" x="527.85" y="572" letter-spacing="0.000">/</text>
<text class="vl" x="532.59" y="572" letter-spacing="1.040">foo</text>
<text class="lb" x="409.13" y="595" letter-spacing="0.037">Queued</text>
<text class="vl" x="467.87" y="595" letter-spacing="0.000">1</text>
<text class="vl" x="479.54" y="595" letter-spacing="-1.374">(18</text>
<text class="vl" x="503.43" y="595" letter-spacing="0.262">bytes)</text>
<rect x="714.85" y="554.90" width="269.80" height="50.00" fill="#2f2f2f" filter="url(#ds)"/>
<rect x="714.85" y="554.90" width="269.80" height="24.00" fill="#353535"/>
<g fill="#606060">
<rect x="714.25" y="578.30" width="1.2" height="27.20"/>
<rect x="984.05" y="578.30" width="1.2" height="27.20"/>
<rect x="714.25" y="604.30" width="271.00" height="1.2"/>
</g>
<g fill="#6e6e6e">
<rect x="714.25" y="554.30" width="2.6" height="24.8"/>
<rect x="714.25" y="554.30" width="271.00" height="2.2"/>
<rect x="983.05" y="554.30" width="2.2" height="24.8"/>
<rect x="714.55" y="577.85" width="270.40" height="1.3"/>
</g>
<rect x="723.00" y="599.70" width="114.1" height="3.3" fill="#6e6e6e"/>
<rect x="862.95" y="599.70" width="114.1" height="3.3" fill="#6e6e6e"/>
<text class="lb" x="720.86" y="572" letter-spacing="0.110">Name</text>
<text class="vl" x="770.35" y="572" letter-spacing="0.000">/</text>
<text class="vl" x="775.42" y="572" letter-spacing="0.589">webhook</text>
<text class="vl" x="840.05" y="572" letter-spacing="0.000">/</text>
<text class="vl" x="844.43" y="572" letter-spacing="0.806">bar</text>
<text class="lb" x="721.33" y="595" letter-spacing="0.037">Queued</text>
<text class="vl" x="780.07" y="595" letter-spacing="0.000">1</text>
<text class="vl" x="791.74" y="595" letter-spacing="-1.374">(18</text>
<text class="vl" x="815.63" y="595" letter-spacing="0.262">bytes)</text>
<rect x="1055.66" y="554.90" width="269.80" height="50.00" fill="#2f2f2f" filter="url(#ds)"/>
<rect x="1055.66" y="554.90" width="269.80" height="24.00" fill="#353535"/>
<g fill="#606060">
<rect x="1055.06" y="578.30" width="1.2" height="27.20"/>
<rect x="1324.86" y="578.30" width="1.2" height="27.20"/>
<rect x="1055.06" y="604.30" width="271.00" height="1.2"/>
</g>
<g fill="#6e6e6e">
<rect x="1055.06" y="554.30" width="2.6" height="24.8"/>
<rect x="1055.06" y="554.30" width="271.00" height="2.2"/>
<rect x="1323.86" y="554.30" width="2.2" height="24.8"/>
<rect x="1055.36" y="577.85" width="270.40" height="1.3"/>
</g>
<rect x="1063.81" y="599.70" width="114.1" height="3.3" fill="#6e6e6e"/>
<rect x="1203.76" y="599.70" width="114.1" height="3.3" fill="#6e6e6e"/>
<text class="lb" x="1061.67" y="572" letter-spacing="0.110">Name</text>
<text class="vl" x="1111.16" y="572" letter-spacing="0.000">/</text>
<text class="vl" x="1116.23" y="572" letter-spacing="0.589">webhook</text>
<text class="vl" x="1180.86" y="572" letter-spacing="0.000">/</text>
<text class="vl" x="1185.24" y="572" letter-spacing="0.712">bak</text>
<text class="lb" x="1062.14" y="595" letter-spacing="0.037">Queued</text>
<text class="vl" x="1120.88" y="595" letter-spacing="0.000">1</text>
<text class="vl" x="1132.55" y="595" letter-spacing="-1.374">(18</text>
<text class="vl" x="1156.44" y="595" letter-spacing="0.262">bytes)</text>
<path transform="translate(849.80 272.60) rotate(90.000) scale(2.40) translate(-5 -3)" d="M2 3 L0 6 L6 3 L0 0 Z" fill="#ffffff"/>
<path transform="translate(1444.60 356.40) rotate(0.673) scale(2.40) translate(-5 -3)" d="M2 3 L0 6 L6 3 L0 0 Z" fill="#ffffff"/>
<path transform="translate(329.80 733.40) rotate(143.549) scale(2.40) translate(-5 -3)" d="M2 3 L0 6 L6 3 L0 0 Z" fill="#ffffff"/>
<path transform="translate(849.80 733.20) rotate(90.000) scale(2.40) translate(-5 -3)" d="M2 3 L0 6 L6 3 L0 0 Z" fill="#ffffff"/>
<path transform="translate(1417.70 733.40) rotate(34.047) scale(2.40) translate(-5 -3)" d="M2 3 L0 6 L6 3 L0 0 Z" fill="#ffffff"/>
</svg></body></html>
